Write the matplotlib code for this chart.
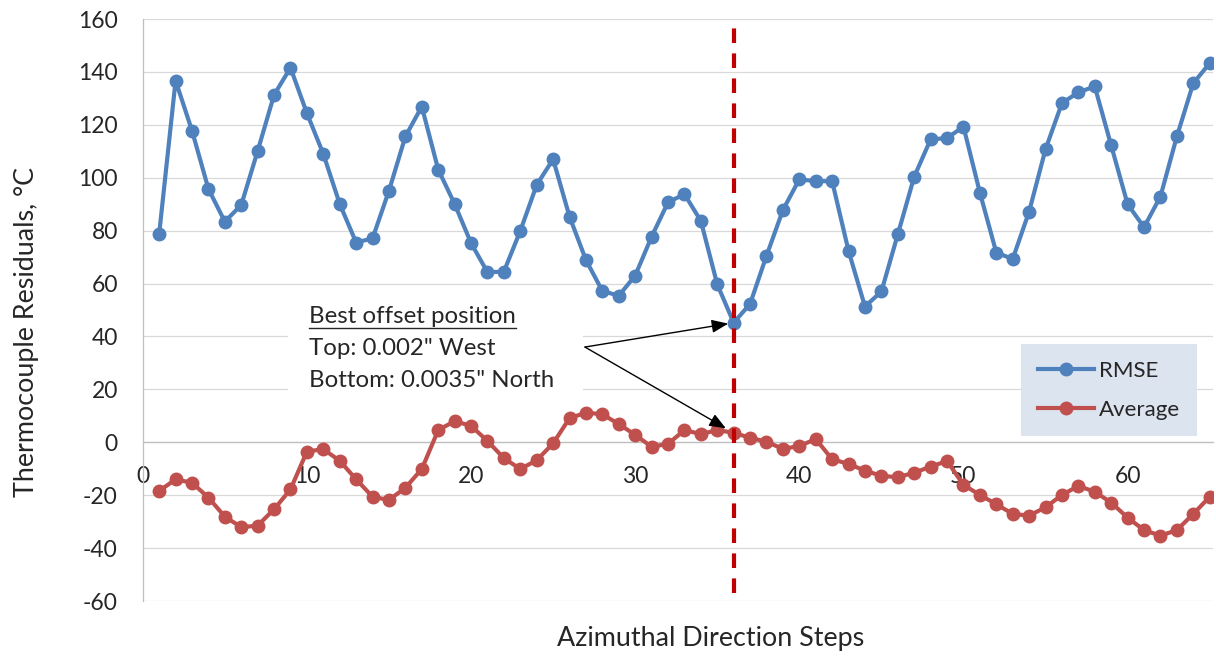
import numpy as np
import matplotlib
matplotlib.use("Agg")
from matplotlib import pyplot as plt
from matplotlib.patches import Rectangle
from matplotlib.lines import Line2D

plt.rcParams["font.family"] = ["Lato", "DejaVu Sans"]
plt.rcParams["axes.unicode_minus"] = False

# residuals per azimuthal step (1..65)
steps = np.arange(1, 66)
rmse = [
    78.8, 136.7, 117.8, 95.8, 83.4, 89.7, 110.1, 131.3, 141.6, 124.4,
    109.0, 90.1, 75.5, 77.1, 95.1, 115.6, 126.9, 103.1, 90.1, 75.3,
    64.3, 64.5, 79.9, 97.3, 107.0, 85.3, 68.9, 57.2, 55.4, 63.0,
    77.7, 90.7, 93.8, 83.7, 59.7, 45.2, 52.3, 70.5, 87.8, 99.4,
    98.7, 98.7, 72.3, 51.3, 57.0, 78.6, 100.4, 114.5, 115.0, 119.3,
    94.4, 71.7, 69.3, 87.2, 110.8, 128.2, 132.3, 134.5, 112.2, 90.0,
    81.3, 92.9, 115.6, 135.7, 143.3,
]
average = [
    -18.4, -14.0, -15.3, -20.9, -28.1, -32.1, -31.5, -25.3, -17.8, -3.5,
    -2.6, -7.0, -14.0, -20.6, -21.8, -17.2, -10.1, 4.6, 8.0, 6.2,
    0.5, -6.0, -10.1, -6.8, -0.4, 9.1, 11.2, 10.6, 6.9, 2.8,
    -1.7, -0.6, 4.6, 3.1, 4.6, 3.6, 1.7, 0.2, -2.5, -1.4,
    1.2, -6.4, -8.2, -10.7, -12.7, -13.2, -11.5, -9.2, -7.1, -16.1,
    -19.9, -23.4, -27.1, -27.7, -24.6, -19.9, -16.5, -18.7, -22.8, -28.5,
    -33.2, -35.3, -33.2, -27.1, -20.6,
]
best_step = 36
note_lines = ["Best offset position", 'Top: 0.002" West', 'Bottom: 0.0035" North']

blue = "#4f81bd"
red = "#c0504d"
txt = "#262626"

fig = plt.figure(figsize=(12.16, 6.58), dpi=100)
ax = fig.add_axes([0.1174, 0.0866, 0.8801, 0.8845])

ax.plot(steps, rmse, color=blue, lw=3, marker="o", ms=9, label="RMSE", zorder=3)
ax.plot(steps, average, color=red, lw=3, marker="o", ms=9, label="Average", zorder=3)
ax.axvline(best_step, ymin=0.0136, ymax=0.985, color="#c00000", lw=3,
           linestyle=(0, (3.5, 2.5)), zorder=4)

ax.set_xlim(0, 65.2)
ax.set_ylim(-60, 160)
ax.set_xticks(range(0, 61, 10))
ax.set_yticks(range(-60, 161, 20))
ax.set_axisbelow(True)
ax.grid(axis="y", color="#d9d9d9", lw=0.9)
for s in ["top", "right"]:
    ax.spines[s].set_visible(False)
ax.spines["bottom"].set_position(("data", 0))
for s in ["left", "bottom"]:
    ax.spines[s].set_color("#bfbfbf")
    ax.spines[s].set_linewidth(0.9)
ax.tick_params(axis="both", length=0, labelsize=16.5, labelcolor=txt)
ax.tick_params(axis="x", pad=17)
ax.tick_params(axis="y", pad=18)

# white note box with the text lines
ax.add_patch(Rectangle((8.84, 17.9), 17.96, 36.7, facecolor="white",
                       edgecolor="none", zorder=1))
note_y = [45.1, 33.0, 20.9]
texts = []
for line, y in zip(note_lines, note_y):
    texts.append(ax.text(10.13, y, line, fontsize=17.3, color=txt, va="baseline",
                         ha="left", zorder=5))

arrow_from = (26.94, 36.0)
ax.annotate("", xy=(best_step, rmse[best_step - 1]), xytext=arrow_from,
            arrowprops=dict(arrowstyle="-|>,head_length=0.5,head_width=0.2",
                            mutation_scale=20, color="black", lw=1,
                            shrinkA=0, shrinkB=4), zorder=5)
ax.annotate("", xy=(best_step, average[best_step - 1]), xytext=arrow_from,
            arrowprops=dict(arrowstyle="-|>,head_length=0.5,head_width=0.2",
                            mutation_scale=20, color="black", lw=1,
                            shrinkA=0, shrinkB=6.5), zorder=5)

leg = ax.legend(loc="upper right", bbox_to_anchor=(0.985, 0.4416),
                borderaxespad=0, frameon=True, fancybox=False, fontsize=16,
                facecolor="#dce4f0", edgecolor="none", framealpha=1,
                handlelength=2.5, handletextpad=0.25, labelspacing=0.85,
                borderpad=0.75)
for t in leg.get_texts():
    t.set_color(txt)

fig.text(0.5847, 0.0289, "Azimuthal Direction Steps", fontsize=19.4,
         color=txt, ha="center", va="center")
fig.text(0.0222, 0.4954, "Thermocouple Residuals, \u00b0C", fontsize=19.4,
         color=txt, ha="center", va="center", rotation=90)

# underline the heading of the note
fig.canvas.draw()
bb = texts[0].get_window_extent()
fig.add_artist(Line2D([bb.x0, bb.x1], [bb.y0 - 1, bb.y0 - 1], transform=None,
                      color=txt, lw=1))

fig.savefig("out.png", dpi=100)
